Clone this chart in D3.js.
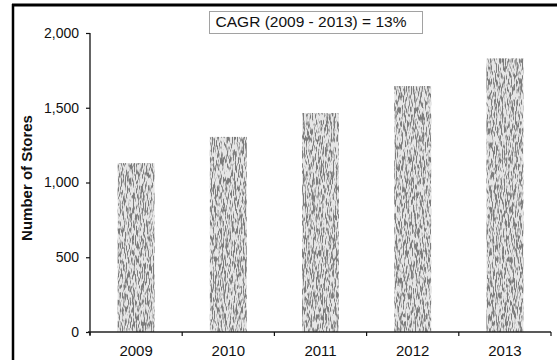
<!DOCTYPE html>
<html>
<head>
<meta charset="utf-8">
<script src="https://cdn.jsdelivr.net/npm/d3@7"></script>
<style>
  html, body { margin: 0; padding: 0; background: #fff; }
  svg { display: block; }
  text { font-family: "Liberation Sans", Arial, sans-serif; fill: #111; }
</style>
</head>
<body>
<svg id="chart" width="557" height="360"></svg>
<script>
// Store counts by year
const years = ["2009", "2010", "2011", "2012", "2013"];
const stores = [1130, 1305, 1465, 1645, 1830];
const yTicks = [0, 500, 1000, 1500, 2000];
const yTitle = "Number of Stores";
const cagrNote = "CAGR (2009 - 2013) = 13%";

const W = 557, H = 360;
const plot = { left: 90, right: 551, top: 33, bottom: 332 };

const svg = d3.select("#chart");
const defs = svg.append("defs");

// Grainy, vertically streaked fill for the columns
const grain = defs.append("filter")
  .attr("id", "grain")
  .attr("x", 0).attr("y", 0).attr("width", 1).attr("height", 1)
  .attr("filterUnits", "objectBoundingBox");
grain.append("feTurbulence")
  .attr("type", "fractalNoise")
  .attr("baseFrequency", "1.1 0.14")
  .attr("numOctaves", 2)
  .attr("seed", 7)
  .attr("result", "noise");
grain.append("feColorMatrix")
  .attr("in", "noise")
  .attr("type", "matrix")
  .attr("values", "0 0 0 0 0.2  0 0 0 0 0.2  0 0 0 0 0.2  6 0 0 0 -2.75")
  .attr("result", "dots");
grain.append("feComposite")
  .attr("in", "dots")
  .attr("in2", "SourceGraphic")
  .attr("operator", "in");

const x = d3.scaleBand()
  .domain(years)
  .range([plot.left, plot.right])
  .paddingInner(0.6)
  .paddingOuter(0.3);

const y = d3.scaleLinear()
  .domain([0, 2000])
  .range([plot.bottom, plot.top]);

const rows = years.map((yr, i) => ({ year: yr, value: stores[i] }));

// Columns: pale base plus speckled overlay
const bars = svg.append("g");
bars.selectAll("rect.base")
  .data(rows)
  .join("rect")
  .attr("class", "base")
  .attr("x", d => x(d.year))
  .attr("y", d => y(d.value))
  .attr("width", x.bandwidth())
  .attr("height", d => y(0) - y(d.value))
  .attr("fill", "#e6e6e6");
bars.selectAll("rect.speck")
  .data(rows)
  .join("rect")
  .attr("class", "speck")
  .attr("x", d => x(d.year))
  .attr("y", d => y(d.value))
  .attr("width", x.bandwidth())
  .attr("height", d => y(0) - y(d.value))
  .attr("fill", "#000")
  .attr("filter", "url(#grain)");

// Y axis
const yAxis = svg.append("g")
  .attr("transform", `translate(${plot.left},0)`)
  .call(d3.axisLeft(y).tickValues(yTicks).tickFormat(d3.format(",")).tickSize(4).tickPadding(7));
yAxis.select(".domain").attr("stroke", "#111").attr("stroke-width", 1.3)
  .attr("d", `M0,${plot.top}V${plot.bottom + 3}`);
yAxis.selectAll(".tick line").attr("stroke", "#111").attr("stroke-width", 1.2);
yAxis.selectAll("text").style("font-size", "14px").attr("fill", "#1a1a1a");

// X axis with labels centred in each band and ticks on the band edges
const xAxis = svg.append("g")
  .attr("transform", `translate(0,${plot.bottom})`)
  .call(d3.axisBottom(x).tickSize(0).tickPadding(13));
xAxis.select(".domain").attr("stroke", "#222").attr("stroke-width", 1.5)
  .attr("d", `M${plot.left - 2},0H${plot.right}`);
xAxis.selectAll("text").style("font-size", "15px").attr("fill", "#1a1a1a");

const edges = years.map(yr => x(yr) - x.step() * x.paddingInner() / 2).concat([plot.right]);
xAxis.selectAll("line.edge")
  .data(edges)
  .join("line")
  .attr("class", "edge")
  .attr("x1", d => d).attr("x2", d => d)
  .attr("y1", 0).attr("y2", 4)
  .attr("stroke", "#111").attr("stroke-width", 1.2);

// Y axis title
svg.append("text")
  .attr("transform", "translate(32,178) rotate(-90)")
  .attr("text-anchor", "middle")
  .style("font-size", "15px")
  .style("font-weight", "bold")
  .text(yTitle);

// CAGR callout box
svg.append("rect")
  .attr("x", 209.5).attr("y", 11.5)
  .attr("width", 213).attr("height", 22)
  .attr("fill", "none")
  .attr("stroke", "#444")
  .attr("stroke-width", 1)
  .attr("stroke-dasharray", "1,1");
svg.append("text")
  .attr("x", 311)
  .attr("y", 27)
  .attr("text-anchor", "middle")
  .style("font-size", "15.5px")
  .attr("fill", "#1a1a1a")
  .text(cagrNote);

// Outer frame: heavy rules along the top and left edges
svg.append("line")
  .attr("x1", 12).attr("x2", W).attr("y1", 5).attr("y2", 5)
  .attr("stroke", "#000").attr("stroke-width", 3);
svg.append("line")
  .attr("x1", 13).attr("x2", 13).attr("y1", 4).attr("y2", H)
  .attr("stroke", "#000").attr("stroke-width", 2.5);
</script>
</body>
</html>
